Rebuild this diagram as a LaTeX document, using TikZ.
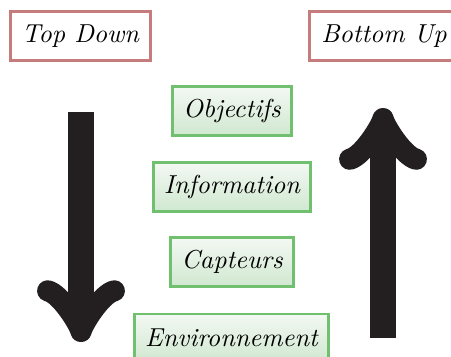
\documentclass[tikz,border=0pt]{standalone}
\usetikzlibrary{calc, positioning, arrows.meta}
\definecolor{approachpink}{RGB}{198,124,124}
\definecolor{levelgreen}{RGB}{112,192,112}
\definecolor{leveltop}{RGB}{243,248,243}
\definecolor{levelbottom}{RGB}{208,232,208}
\definecolor{arrowblack}{RGB}{35,31,32}
\tikzset{
  font=\normalsize\itshape,
  % Approach label
  approach/.style={draw=approachpink, line width=1.15pt, fill=white,
    shape=rectangle, minimum height=18.5pt, inner xsep=4.5pt},
  % Level of the hierarchy
  level/.style={draw=levelgreen, line width=1.15pt, shape=rectangle,
    top color=leveltop, bottom color=levelbottom, minimum height=18.5pt,
    inner xsep=4pt},
  % Big arrows
  bigarrow/.style={draw=arrowblack, line width=10.2pt,
    -{Classical TikZ Rightarrow[scale length=1.15, scale width=0.85]}},
}
\begin{document}
\begin{tikzpicture}[x=0.385pt, y=-0.385pt]
    \useasboundingbox (0,0) rectangle (451,356);

    % Approaches
    \node[approach] (td) at (80.5,36) {Top Down};
    \node[approach] (bu) at (384,36) {Bottom Up};

    % Levels
    \node[level] (obj) at (232,111) {Objectifs};
    \node[level] (info) at (232,187) {Information};
    \node[level] (capt) at (232,262) {Capteurs};
    \node[level] (env) at (231.5,338) {Environnement};

    % Arrows
    \coordinate (tdstart) at (81,112);
    \coordinate (tdend) at (81,342);
    \coordinate (bustart) at (383,338);
    \coordinate (buend) at (383,108);
    \draw[bigarrow] (tdstart) -- (tdend);
    \draw[bigarrow] (bustart) -- (buend);
  \end{tikzpicture}
\end{document}
